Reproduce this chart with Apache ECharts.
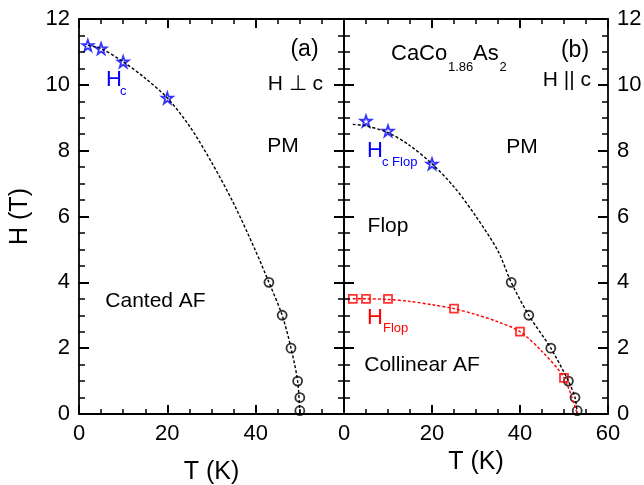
<!DOCTYPE html>
<html>
<head>
<meta charset="utf-8">
<script src="https://cdn.jsdelivr.net/npm/echarts@6/dist/echarts.min.js"></script>
<style>
html,body{margin:0;padding:0;background:#fff;}
#wrap{position:relative;width:644px;height:485px;}
#chart,#ticks{position:absolute;left:0;top:0;width:644px;height:485px;}
#ticks{pointer-events:none;z-index:2;}
</style>
</head>
<body>
<div id="wrap">
  <div id="chart"></div>
  <div id="ticks"></div>
</div>
<script>
// ---- Data ----
// Panel (a): H perpendicular to c
const tLeftCurve = [2, 5, 10, 15, 20, 25, 30, 35, 40, 43, 46, 48, 49.5, 50];
const hLeftCurve = [11.2, 11.1, 10.7, 10.2, 9.6, 8.75, 7.65, 6.4, 4.95, 4.0, 3.0, 2.0, 1.0, 0];
const tLeftStars = [2, 5, 10, 20];
const hLeftStars = [11.2, 11.1, 10.7, 9.6];
const tLeftCircles = [43, 46, 48, 49.5, 50, 50];
const hLeftCircles = [4, 3, 2, 1, 0.5, 0.1];

// Panel (b): H parallel to c
const tRightCurve = [2, 5, 10, 15, 20, 25, 30, 35, 38, 42, 47, 51, 52.5, 53];
const hRightCurve = [8.8, 8.75, 8.55, 8.15, 7.6, 6.9, 6.0, 4.95, 4.0, 3.0, 2.0, 1.0, 0.5, 0];
const tRightStars = [5, 10, 20];
const hRightStars = [8.9, 8.6, 7.6];
const tRightCircles = [38, 42, 47, 51, 52.5, 53];
const hRightCircles = [4, 3, 2, 1, 0.5, 0.1];
const tFlopCurve = [2, 5, 10, 15, 20, 25, 30, 35, 40, 45, 50, 53];
const hFlopCurve = [3.5, 3.5, 3.48, 3.42, 3.32, 3.2, 3.02, 2.8, 2.5, 1.9, 1.1, 0];
const tFlopSquares = [2, 5, 10, 25, 40, 50];
const hFlopSquares = [3.5, 3.5, 3.5, 3.2, 2.5, 1.1];

// Axis ranges / ticks
const tRange = [0, 60];
const tInterval = 20;
const hRange = [0, 12];
const hInterval = 2;

const zip = (a, b) => a.map((v, i) => [v, b[i]]);

const FONT = '"Liberation Sans", Arial, Helvetica, sans-serif';
const STAR = 'path://M50,2 L61.8,36.2 L97.6,36.2 L68.6,57.3 L79.4,91.2 L50,70.3 L20.6,91.2 L31.4,57.3 L2.4,36.2 L38.2,36.2 Z';

const GRIDS = [
  {left: 79, top: 19, width: 265, height: 395},
  {left: 344, top: 19, width: 264, height: 395}
];

// ---------- main chart: axis lines, labels, data ----------
function xAx(grid, pos, labels, name, nameGap, hideMax) {
  return {
    type: 'value', gridIndex: grid, position: pos,
    min: tRange[0], max: tRange[1], interval: tInterval,
    axisLine: {show: true, onZero: false, lineStyle: {color: '#000', width: 1.8}},
    axisTick: {show: false}, minorTick: {show: false},
    splitLine: {show: false},
    axisLabel: {
      show: labels, color: '#000', fontSize: 22, fontFamily: FONT, margin: 9,
      formatter: v => (hideMax && v === tRange[1]) ? '' : String(v)
    },
    name: name, nameLocation: 'middle', nameGap: nameGap,
    nameTextStyle: {color: '#000', fontSize: 25, fontFamily: FONT}
  };
}
function yAx(grid, pos, labels, name) {
  return {
    type: 'value', gridIndex: grid, position: pos,
    min: hRange[0], max: hRange[1], interval: hInterval,
    axisLine: {show: true, onZero: false, lineStyle: {color: '#000', width: 1.8}},
    axisTick: {show: false}, minorTick: {show: false},
    splitLine: {show: false},
    axisLabel: {show: labels, color: '#000', fontSize: 22, fontFamily: FONT, margin: 9},
    name: name, nameLocation: 'middle', nameGap: 46, nameRotate: 90,
    nameTextStyle: {color: '#000', fontSize: 25, fontFamily: FONT}
  };
}

function curve(x, y, t, h, color) {
  return {
    type: 'line', xAxisIndex: x, yAxisIndex: y, data: zip(t, h),
    smooth: 0.3, symbol: 'none',
    lineStyle: {color: color, width: 1.4, type: [3, 2]}
  };
}
function marks(x, y, t, h, symbol, size, color) {
  return {
    type: 'scatter', xAxisIndex: x, yAxisIndex: y, data: zip(t, h),
    symbol: symbol, symbolSize: size,
    itemStyle: {color: 'rgba(255,255,255,0)', borderColor: color, borderWidth: 1.8}
  };
}

function txt(text, x, y, size, color, align) {
  return {
    type: 'text',
    style: {
      text: text, x: x, y: y, fill: color || '#000',
      font: size + 'px ' + FONT,
      textAlign: align || 'center', align: align || 'center',
      textVerticalAlign: 'middle', verticalAlign: 'middle'
    }
  };
}

const chart = echarts.init(document.getElementById('chart'), null, {renderer: 'canvas'});
chart.setOption({
  backgroundColor: '#fff',
  animation: false,
  grid: GRIDS.map(g => Object.assign({outerBoundsMode: 'none', containLabel: false}, g)),
  xAxis: [
    xAx(0, 'bottom', true, 'T (K)', 46, true),
    xAx(0, 'top', false, '', 0, false),
    xAx(1, 'bottom', true, 'T (K)', 24, false),
    xAx(1, 'top', false, '', 0, false)
  ],
  yAxis: [
    yAx(0, 'left', true, 'H (T)'),
    yAx(0, 'right', false, ''),
    yAx(1, 'left', false, ''),
    yAx(1, 'right', true, '')
  ],
  series: [
    curve(0, 0, tLeftCurve, hLeftCurve, '#000'),
    marks(0, 0, tLeftStars, hLeftStars, STAR, 11, '#0000ff'),
    marks(0, 0, tLeftCircles, hLeftCircles, 'circle', 9, '#000'),
    curve(2, 2, tRightCurve, hRightCurve, '#000'),
    curve(2, 2, tFlopCurve, hFlopCurve, '#ff0000'),
    marks(2, 2, tRightStars, hRightStars, STAR, 11, '#0000ff'),
    marks(2, 2, tRightCircles, hRightCircles, 'circle', 9, '#000'),
    marks(2, 2, tFlopSquares, hFlopSquares, 'rect', 8, '#ff0000')
  ],
  graphic: [
    txt('(a)', 304.5, 50, 23),
    txt('H \u22A5 c', 323, 84, 21, '#000', 'right'),
    txt('PM', 283, 146, 21),
    txt('Canted AF', 155.5, 301, 21),
    txt('H', 106, 80, 22, '#0000ff', 'left'),
    txt('c', 120, 91, 13, '#0000ff', 'left'),
    txt('CaCo', 391, 54, 22, '#000', 'left'),
    txt('1.86', 448, 67, 13, '#000', 'left'),
    txt('As', 473, 54, 22, '#000', 'left'),
    txt('2', 499.5, 67, 13, '#000', 'left'),
    txt('(b)', 575, 51, 23),
    txt('H || c', 591, 80, 21, '#000', 'right'),
    txt('PM', 522, 147, 21),
    txt('H', 367, 151, 22, '#0000ff', 'left'),
    txt('c Flop', 382, 162, 13, '#0000ff', 'left'),
    txt('Flop', 388, 226, 21),
    txt('H', 367, 318, 22, '#ff0000', 'left'),
    txt('Flop', 383, 328, 13, '#ff0000', 'left'),
    txt('Collinear AF', 422, 365, 21)
  ]
});

// ---------- overlay chart: inward tick marks only ----------
function tickX(grid, pos) {
  return {
    type: 'value', gridIndex: grid, position: pos,
    min: tRange[0], max: tRange[1], interval: tInterval,
    axisLine: {show: false, onZero: false},
    axisTick: {show: true, inside: true, length: 9, lineStyle: {color: '#000', width: 2}},
    minorTick: {show: true, splitNumber: 4, length: 5, lineStyle: {color: '#000', width: 1.5}},
    axisLabel: {show: false}, splitLine: {show: false}
  };
}
function tickY(grid, pos) {
  return {
    type: 'value', gridIndex: grid, position: pos,
    min: hRange[0], max: hRange[1], interval: hInterval,
    axisLine: {show: false, onZero: false},
    axisTick: {show: true, inside: true, length: 10, lineStyle: {color: '#000', width: 2}},
    minorTick: {show: true, splitNumber: 4, length: 6, lineStyle: {color: '#000', width: 1.5}},
    axisLabel: {show: false}, splitLine: {show: false}
  };
}
const ticks = echarts.init(document.getElementById('ticks'), null, {renderer: 'canvas'});
ticks.setOption({
  backgroundColor: 'transparent',
  animation: false,
  grid: GRIDS.map(g => Object.assign({}, g)),
  xAxis: [tickX(0, 'bottom'), tickX(0, 'top'), tickX(1, 'bottom'), tickX(1, 'top')],
  yAxis: [tickY(0, 'left'), tickY(0, 'right'), tickY(1, 'left'), tickY(1, 'right')],
  series: []
});
</script>
</body>
</html>
